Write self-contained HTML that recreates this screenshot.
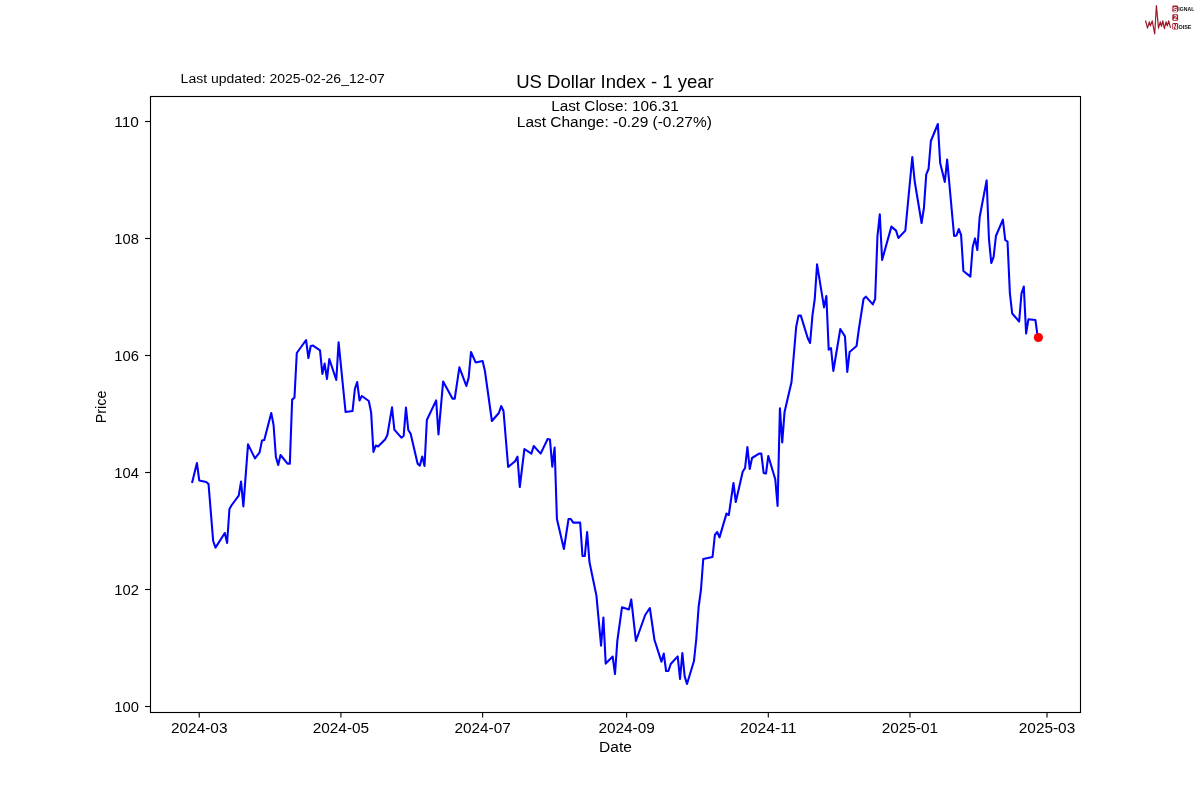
<!DOCTYPE html>
<html><head><meta charset="utf-8"><style>
html,body{margin:0;padding:0;background:#fff;}
body{width:1200px;height:800px;overflow:hidden;}
svg{display:block;will-change:transform;}
text{font-family:"Liberation Sans",sans-serif;fill:#000;}
</style></head><body>
<svg width="1200" height="800" viewBox="0 0 1200 800">
<rect x="0" y="0" width="1200" height="800" fill="#fff"/>
<g id="logo">
<path d="M1145.5,20.5 L1147.5,28.1 L1149.3,21.8 L1150.4,25.9 L1152.2,20.9 L1154.7,34 L1156.4,5.6 L1158.5,28.1 L1160.3,21.8 L1161.5,26.3 L1162.8,20.9 L1164.4,28.6 L1166,21.8 L1167.3,25.9 L1168.7,20.9 L1170.5,27.9" fill="none" stroke="#9e1828" stroke-width="1.2" stroke-linejoin="round"/>
<rect x="1172.3" y="5.5" width="5.8" height="6.8" rx="1.3" fill="#a61c2c"/>
<rect x="1172.3" y="14.2" width="5.8" height="6.6" rx="1.3" fill="#a61c2c"/>
<rect x="1172.3" y="23" width="5.8" height="6.6" rx="1.3" fill="#a61c2c"/>
<text x="1175.2" y="11.6" text-anchor="middle" style="font-size:6.5px;font-weight:bold;fill:#fff">S</text>
<text x="1175.2" y="20.2" text-anchor="middle" style="font-size:6.5px;font-weight:bold;fill:#fff">2</text>
<text x="1175.2" y="29" text-anchor="middle" style="font-size:6.5px;font-weight:bold;fill:#fff">N</text>
<text x="1178.3" y="11.3" textLength="16" lengthAdjust="spacingAndGlyphs" style="font-size:5px;font-weight:bold;fill:#111">IGNAL</text>
<text x="1178.5" y="28.7" textLength="13" lengthAdjust="spacingAndGlyphs" style="font-size:5px;font-weight:bold;fill:#111">OISE</text>
</g>
<text x="180.6" y="83" textLength="204.2" lengthAdjust="spacingAndGlyphs" style="font-size:12.5px">Last updated: 2025-02-26_12-07</text>
<text x="615" y="88" text-anchor="middle" textLength="197.6" lengthAdjust="spacingAndGlyphs" style="font-size:18.1px">US Dollar Index - 1 year</text>
<text x="615" y="110.7" text-anchor="middle" textLength="127.6" lengthAdjust="spacingAndGlyphs" style="font-size:13.89px">Last Close: 106.31</text>
<text x="614.3" y="126.6" text-anchor="middle" textLength="195" lengthAdjust="spacingAndGlyphs" style="font-size:13.89px">Last Change: -0.29 (-0.27%)</text>
<path d="M192.27,482.00 L196.92,463.00 L199.24,480.40 L206.21,482.00 L208.53,484.00 L213.18,541.00 L215.50,547.60 L224.79,533.00 L227.11,543.00 L229.44,509.00 L231.76,505.00 L238.73,495.60 L241.05,481.60 L243.37,506.40 L248.02,444.40 L254.99,458.40 L259.63,452.40 L261.95,440.60 L264.28,440.00 L271.24,413.00 L273.57,425.00 L275.89,457.00 L278.21,465.00 L280.53,455.00 L287.50,463.60 L289.83,463.60 L292.15,399.60 L294.47,397.60 L296.79,353.00 L306.08,340.00 L308.41,358.00 L310.73,346.00 L313.05,345.60 L320.02,350.40 L322.34,374.00 L324.67,363.60 L326.99,379.00 L329.31,359.00 L336.28,380.00 L338.60,342.40 L345.57,412.00 L352.54,411.00 L354.86,389.00 L357.18,382.00 L359.51,400.40 L361.83,396.00 L368.80,401.00 L371.12,412.40 L373.44,452.00 L375.76,445.60 L378.09,446.40 L385.05,439.60 L387.38,435.00 L392.02,407.40 L394.35,429.60 L401.31,437.60 L403.64,436.00 L405.96,407.60 L408.28,430.00 L410.60,433.60 L417.57,463.60 L419.90,465.60 L422.22,456.60 L424.54,466.00 L426.86,420.00 L436.15,400.40 L438.48,434.40 L443.12,381.60 L452.41,398.60 L454.74,398.60 L459.38,367.40 L466.35,386.00 L468.67,377.60 L470.99,352.00 L475.64,362.40 L482.61,361.00 L484.93,371.00 L491.90,421.00 L498.87,413.00 L501.19,406.00 L503.51,411.00 L508.16,467.00 L515.12,461.20 L517.45,456.60 L519.77,487.00 L524.42,449.00 L531.38,453.60 L533.71,446.00 L540.67,453.60 L547.64,439.00 L549.97,439.60 L552.29,466.60 L554.61,447.60 L556.93,519.00 L563.90,549.00 L568.55,519.00 L570.87,519.00 L573.19,522.60 L580.16,522.60 L582.48,556.00 L584.81,556.00 L587.13,532.00 L589.45,562.00 L596.42,595.60 L601.06,645.60 L603.39,617.60 L605.71,663.60 L612.68,656.60 L615.00,674.00 L617.32,641.00 L621.97,607.30 L628.94,609.40 L631.26,599.40 L635.90,641.00 L645.19,615.00 L649.84,608.00 L654.49,640.00 L661.45,661.60 L663.78,653.60 L666.10,671.00 L668.42,671.00 L670.74,664.00 L677.71,656.40 L680.03,679.00 L682.36,653.00 L684.68,676.40 L687.00,684.00 L693.97,661.00 L696.29,639.00 L698.62,607.00 L700.94,590.00 L703.26,559.00 L712.55,557.00 L714.88,535.00 L717.20,532.00 L719.52,537.40 L726.49,513.60 L728.81,515.00 L733.46,483.00 L735.78,502.00 L742.75,471.60 L745.07,468.00 L747.39,447.00 L749.72,469.00 L752.04,458.00 L759.01,453.60 L761.33,453.60 L763.65,473.00 L765.97,473.60 L768.30,456.00 L775.26,479.20 L777.59,506.00 L779.91,408.40 L782.23,442.40 L784.56,412.00 L791.52,382.00 L796.17,327.00 L798.49,315.60 L800.81,315.60 L807.78,338.30 L810.10,343.00 L812.43,315.60 L814.75,299.00 L817.07,264.40 L824.04,307.40 L826.36,296.00 L828.69,349.60 L831.01,348.00 L833.33,371.00 L840.30,329.00 L844.95,336.40 L847.27,372.00 L849.59,352.00 L856.56,346.00 L858.88,329.00 L863.53,299.00 L865.85,296.60 L872.82,304.40 L875.14,299.00 L877.46,236.00 L879.79,214.40 L882.11,260.00 L891.40,226.60 L896.04,230.60 L898.37,238.00 L905.33,230.60 L907.66,206.00 L912.30,157.00 L914.63,181.00 L921.59,223.00 L923.92,208.00 L926.24,174.40 L928.56,169.00 L930.88,141.00 L937.85,124.00 L940.17,163.00 L944.82,182.00 L947.14,159.60 L954.11,236.00 L956.43,235.60 L958.76,229.00 L961.08,235.00 L963.40,271.00 L970.37,276.60 L972.69,247.00 L975.01,238.40 L977.34,250.00 L979.66,217.00 L986.63,180.40 L988.95,239.00 L991.27,263.00 L993.60,257.00 L995.92,236.00 L1002.89,219.60 L1005.21,240.00 L1007.53,241.60 L1009.86,293.00 L1012.18,313.50 L1019.15,321.50 L1021.47,293.50 L1023.79,286.50 L1026.11,333.50 L1028.44,319.20 L1035.40,320.00 L1037.73,337.20" fill="none" stroke="#0000ff" stroke-width="2.08" stroke-linejoin="round" stroke-linecap="square"/>
<circle cx="1038.4" cy="337.5" r="4.6" fill="#ff0000"/>
<rect x="150.5" y="96.5" width="930" height="616" fill="none" stroke="#000" stroke-width="1.11"/>
<g stroke="#000" stroke-width="1.11"><line x1="145.1" y1="706.5" x2="150" y2="706.5"/><line x1="145.1" y1="589.5" x2="150" y2="589.5"/><line x1="145.1" y1="472.5" x2="150" y2="472.5"/><line x1="145.1" y1="355.5" x2="150" y2="355.5"/><line x1="145.1" y1="238.5" x2="150" y2="238.5"/><line x1="145.1" y1="121.5" x2="150" y2="121.5"/><line x1="199.24" y1="712" x2="199.24" y2="717.6"/><line x1="340.92" y1="712" x2="340.92" y2="717.6"/><line x1="482.61" y1="712" x2="482.61" y2="717.6"/><line x1="626.61" y1="712" x2="626.61" y2="717.6"/><line x1="768.30" y1="712" x2="768.30" y2="717.6"/><line x1="909.98" y1="712" x2="909.98" y2="717.6"/><line x1="1047.02" y1="712" x2="1047.02" y2="717.6"/></g>
<g style="font-size:13.89px"><text x="138.9" y="711.7" text-anchor="end" textLength="24.6" lengthAdjust="spacingAndGlyphs">100</text><text x="138.9" y="594.7" text-anchor="end" textLength="24.6" lengthAdjust="spacingAndGlyphs">102</text><text x="138.9" y="477.7" text-anchor="end" textLength="24.6" lengthAdjust="spacingAndGlyphs">104</text><text x="138.9" y="360.7" text-anchor="end" textLength="24.6" lengthAdjust="spacingAndGlyphs">106</text><text x="138.9" y="243.7" text-anchor="end" textLength="24.6" lengthAdjust="spacingAndGlyphs">108</text><text x="138.9" y="126.7" text-anchor="end" textLength="24.6" lengthAdjust="spacingAndGlyphs">110</text><text x="199.24" y="733" text-anchor="middle" textLength="56.4" lengthAdjust="spacingAndGlyphs">2024-03</text><text x="340.92" y="733" text-anchor="middle" textLength="56.4" lengthAdjust="spacingAndGlyphs">2024-05</text><text x="482.61" y="733" text-anchor="middle" textLength="56.4" lengthAdjust="spacingAndGlyphs">2024-07</text><text x="626.61" y="733" text-anchor="middle" textLength="56.4" lengthAdjust="spacingAndGlyphs">2024-09</text><text x="768.30" y="733" text-anchor="middle" textLength="56.4" lengthAdjust="spacingAndGlyphs">2024-11</text><text x="909.98" y="733" text-anchor="middle" textLength="56.4" lengthAdjust="spacingAndGlyphs">2025-01</text><text x="1047.02" y="733" text-anchor="middle" textLength="56.4" lengthAdjust="spacingAndGlyphs">2025-03</text></g>
<text x="615.5" y="752" text-anchor="middle" textLength="32.8" lengthAdjust="spacingAndGlyphs" style="font-size:13.89px">Date</text>
<text transform="translate(105.9,406.95) rotate(-90)" x="0" y="0" text-anchor="middle" textLength="32.8" lengthAdjust="spacingAndGlyphs" style="font-size:13.89px">Price</text>
</svg>
</body></html>
